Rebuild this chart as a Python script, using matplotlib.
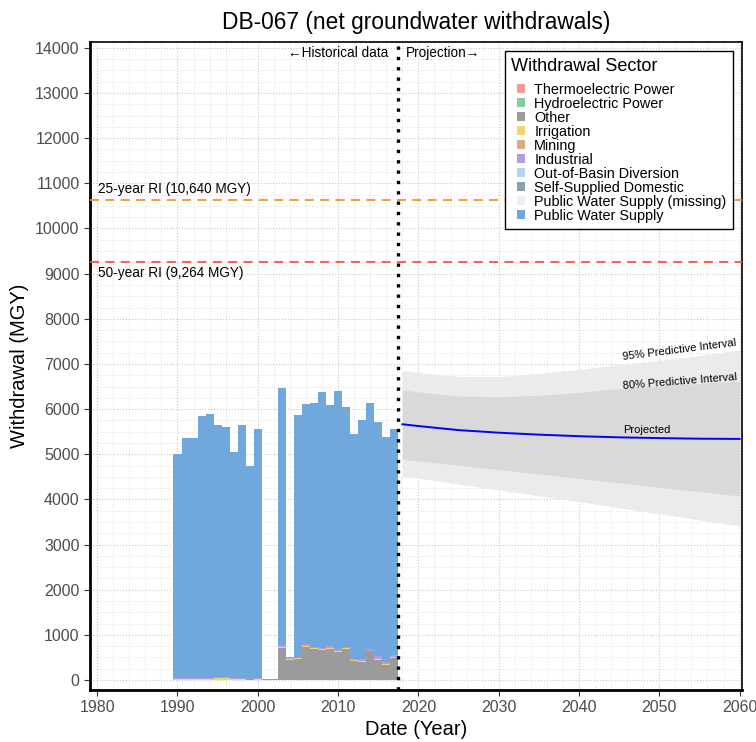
import numpy as np
import matplotlib
matplotlib.use("Agg")
import matplotlib.pyplot as plt
from matplotlib.patches import Patch, Rectangle
from matplotlib.legend_handler import HandlerPatch
from matplotlib.ticker import MultipleLocator

plt.rcParams['font.family'] = ['Liberation Sans', 'DejaVu Sans']

# historical withdrawals (MGY), stacked by sector
years = np.arange(1990, 2018)
other = [0, 0, 0, 0, 0, 0, 0, 0, 0, 0, 0, 0, 0,
         715, 445, 465, 725, 680, 665, 695, 620, 680, 430, 405, 635, 445, 330, 495]
irrigation = [20, 15, 15, 20, 20, 40, 35, 25, 15, 0, 25, 0, 0,
              25, 30, 30, 25, 30, 20, 25, 30, 30, 25, 20, 15, 30, 35, 20]
industrial = [30, 30, 30, 35, 35, 30, 30, 30, 20, 5, 30, 0, 0,
              35, 40, 0, 40, 28, 25, 35, 30, 15, 20, 35, 45, 60, 40, 45]
pws = [4950, 5315, 5315, 5795, 5830, 5585, 5540, 5005, 5615, 4745, 5505, 20, 20,
       5685, 0, 5383, 5317, 5406, 5677, 5337, 5730, 5315, 4975, 5307, 5442, 5180, 4986, 5000]

# projection
proj_years = [2018, 2020, 2025, 2030, 2035, 2040, 2045, 2050, 2055, 2060]
projected = [5665, 5625, 5535, 5478, 5435, 5400, 5375, 5358, 5345, 5340]
pi80_hi = [6424, 6380, 6290, 6275, 6305, 6370, 6455, 6515, 6570, 6625]
pi80_lo = [4890, 4855, 4755, 4660, 4565, 4465, 4370, 4270, 4175, 4075]
pi95_hi = [6853, 6810, 6725, 6720, 6790, 6880, 6985, 7080, 7185, 7315]
pi95_lo = [4519, 4470, 4340, 4210, 4080, 3950, 3815, 3680, 3545, 3410]

ri25 = 10640
ri50 = 9264
split_year = 2017.5

sectors = ["Thermoelectric Power", "Hydroelectric Power", "Other", "Irrigation",
           "Mining", "Industrial", "Out-of-Basin Diversion", "Self-Supplied Domestic",
           "Public Water Supply (missing)", "Public Water Supply"]
sector_colors = ["#F49C8C", "#86CBA0", "#9B9B9B", "#F8D06C", "#D9AB84",
                 "#B39DDB", "#AFD5F0", "#8E9FAE", "#EDEDF6", "#70A7DD"]
col = dict(zip(sectors, sector_colors))

fig = plt.figure(figsize=(7.56, 7.42), dpi=100)
ax = fig.add_axes([0.119, 0.0701, 0.8625, 0.8733])

# grid
ax.xaxis.set_major_locator(MultipleLocator(10))
ax.xaxis.set_minor_locator(MultipleLocator(2))
ax.yaxis.set_major_locator(MultipleLocator(1000))
ax.yaxis.set_minor_locator(MultipleLocator(250))
ax.grid(which='major', color='#C8C8C8', linestyle=':', linewidth=0.8)
ax.grid(which='minor', color='#E2E2E2', linestyle=':', linewidth=0.7)
ax.set_axisbelow(True)

# bars
bottom = np.zeros(len(years))
for name, vals in [("Other", other), ("Irrigation", irrigation),
                   ("Industrial", industrial), ("Public Water Supply", pws)]:
    vals = np.array(vals, dtype=float)
    ax.bar(years, vals, width=1.0, bottom=bottom, color=col[name],
           linewidth=0, zorder=2)
    bottom += vals

# predictive intervals
ax.fill_between(proj_years, pi95_lo, pi95_hi, color='#EBEBEB', linewidth=0, zorder=2)
ax.fill_between(proj_years, pi80_lo, pi80_hi, color='#D9D9D9', linewidth=0, zorder=2)
ax.plot(proj_years, projected, color='#0000FF', linewidth=1.4, zorder=3)

ax.text(2052.5, 7310, "95% Predictive Interval", fontsize=8, rotation=7.2,
        ha='center', va='center', zorder=4)
ax.text(2052.5, 6610, "80% Predictive Interval", fontsize=8, rotation=4.5,
        ha='center', va='center', zorder=4)
ax.text(2048.5, 5540, "Projected", fontsize=8, ha='center', va='center', zorder=4)

# recurrence interval lines
ax.axhline(ri25, color='#F7931E', linestyle=(0, (5, 3.5)), linewidth=1.3, zorder=3)
ax.axhline(ri50, color='#FF4D4D', linestyle=(0, (5, 3.5)), linewidth=1.3, zorder=3)
ax.text(1980.1, ri25 + 90, "25-year RI (10,640 MGY)", fontsize=9.8,
        ha='left', va='bottom', zorder=4)
ax.text(1980.1, ri50 - 90, "50-year RI (9,264 MGY)", fontsize=9.8,
        ha='left', va='top', zorder=4)

# historical / projection divider
ax.axvline(split_year, color='black', linestyle=(0, (1, 2.1)), linewidth=2.4, zorder=4)
ax.text(split_year - 1.2, 13890, "\u2190Historical data", fontsize=9.8,
        ha='right', va='center')
ax.text(split_year + 0.9, 13890, "Projection\u2192", fontsize=9.8,
        ha='left', va='center')

ax.set_xlim(1979.1, 2060.3)
ax.set_ylim(-220, 14130)

for s in ax.spines.values():
    s.set_color('black')
    s.set_linewidth(1.2)
ax.spines['left'].set_linewidth(2)
ax.spines['bottom'].set_linewidth(2)
ax.tick_params(which='major', length=4, color='#333333', labelcolor='#4D4D4D',
               labelsize=11.5)
ax.tick_params(which='minor', length=0)

ax.set_xlabel("Date (Year)", fontsize=14.5, labelpad=3)
ax.set_ylabel("Withdrawal (MGY)", fontsize=14.5, labelpad=4)
ax.set_title("DB-067 (net groundwater withdrawals)", fontsize=16.4, pad=9)


def right_square(legend, orig_handle, xdescent, ydescent, width, height, fontsize):
    # small square pushed to the right end of the handle box
    return Rectangle((-xdescent + width - height, -ydescent), height, height)


handles = [Patch(facecolor=col[s], edgecolor='none', label=s) for s in sectors]
leg = ax.legend(handles=handles, title="Withdrawal Sector", loc='upper right',
                bbox_to_anchor=(0.986, 0.986), borderaxespad=0, fontsize=10.4,
                title_fontsize=13, alignment='left', fancybox=False,
                framealpha=1, edgecolor='black', handlelength=1.0,
                handleheight=0.55, labelspacing=0.0, handletextpad=0.6,
                borderpad=0.45,
                handler_map={Patch: HandlerPatch(patch_func=right_square)})
leg._legend_box.sep = 6  # extra room under the legend title
leg.get_frame().set_linewidth(1.0)
leg.set_zorder(5)

fig.savefig("out.png", dpi=100)
